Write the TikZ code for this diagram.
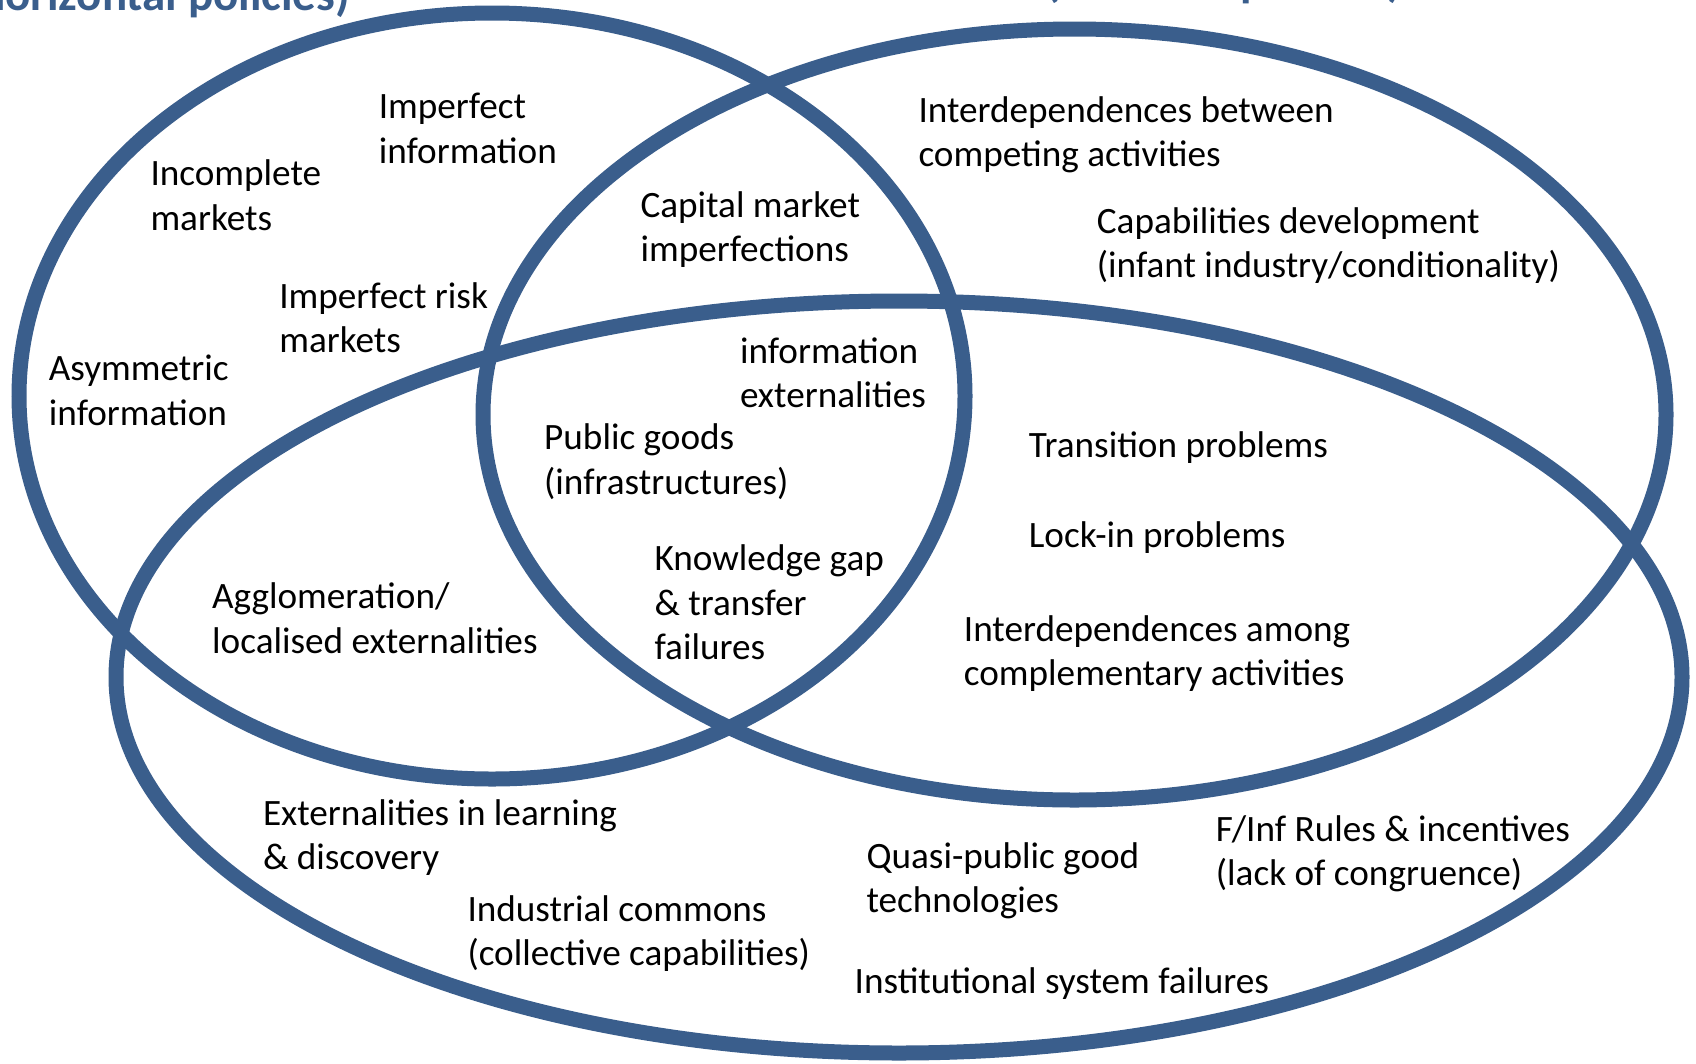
\documentclass[tikz,border=0pt]{standalone}
\usepackage{fontspec}
\setmainfont{Carlito}
\definecolor{vennblue}{RGB}{58,94,140}
\begin{document}
\begin{tikzpicture}[x=1pt,y=-1pt,
  ring/.style={draw=vennblue,line width=15pt},
  lbl/.style={anchor=base west,align=left,inner sep=0pt,yshift=-2pt,
    font=\fontsize{37.2}{44.35}\selectfont},
  head/.style={inner sep=0pt,text=vennblue,
    font=\bfseries\fontsize{47}{56}\selectfont}]
\useasboundingbox (0,0) rectangle (1696,1063);
\clip (0,0) rectangle (1696,1063);

% headings (mostly above the frame)
\node[head,anchor=base east] (hleft) at (350,10) {(horizontal policies)};
\node[head,anchor=base west] (hright) at (1045,-4) {(selective policies)};

% the three sets
\draw[ring] (492,396) ellipse [x radius=473, y radius=383];
\draw[ring] (1074.5,414.5) ellipse [x radius=591.5, y radius=385.5];
\draw[ring] (899,677) ellipse [x radius=783, y radius=376];

% labels (anchored at the baseline of their last line)
\node[lbl] (t1)  at (378.6,161.2) {Imperfect\\information};
\node[lbl] (t2)  at (150.3,228.3) {Incomplete\\markets};
\node[lbl] (t3)  at (640.3,259.6) {Capital market\\imperfections};
\node[lbl] (t4)  at (918.3,164.5) {Interdependences between\\competing activities};
\node[lbl] (t5)  at (1096.7,275.9) {Capabilities development\\(infant industry/conditionality)};
\node[lbl] (t6)  at (279.1,350.5) {Imperfect risk\\markets};
\node[lbl] (t7)  at (48.7,423.0) {Asymmetric\\information};
\node[lbl] (t8)  at (739.8,405.7) {information\\externalities};
\node[lbl] (t9)  at (544.0,492.2) {Public goods\\(infrastructures)};
\node[lbl] (t10) at (1028.6,455.4) {Transition problems};
\node[lbl] (t11) at (1028.6,545.1) {Lock-in problems};
\node[lbl] (t12) at (654.4,657.6) {Knowledge gap\\\& transfer\\failures};
\node[lbl] (t13) at (212.0,651.2) {Agglomeration/\\localised externalities};
\node[lbl] (t14) at (963.7,683.6) {Interdependences among\\complementary activities};
\node[lbl] (t15) at (262.8,867.5) {Externalities in learning\\\& discovery};
\node[lbl] (t16) at (1215.7,883.7) {F/Inf Rules \& incentives\\(lack of congruence)};
\node[lbl] (t17) at (866.4,910.8) {Quasi-public good\\technologies};
\node[lbl] (t18) at (467.3,963.8) {Industrial commons\\(collective capabilities)};
\node[lbl] (t19) at (854.5,991.8) {Institutional system failures};
\end{tikzpicture}
\end{document}
